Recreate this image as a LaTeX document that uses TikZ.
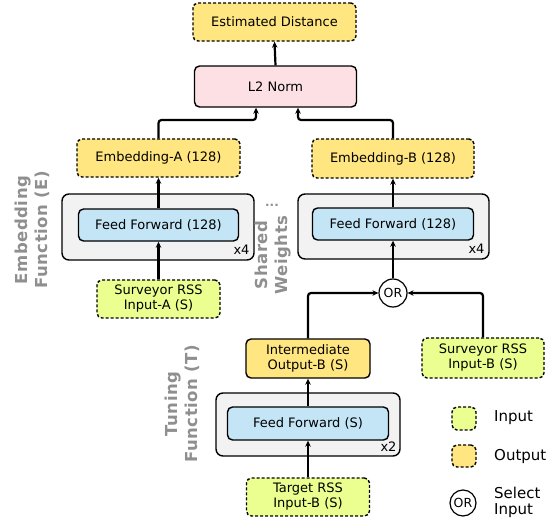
\documentclass[tikz,border=0pt]{standalone}
\usepackage{fontspec}
\setmainfont{DejaVu Sans}
\usetikzlibrary{arrows.meta,calc}
\definecolor{outY}{HTML}{FFE680}
\definecolor{inG}{HTML}{EAFF8F}
\definecolor{l2P}{HTML}{FCE0E3}
\definecolor{ffB}{HTML}{C4E5F5}
\definecolor{grayBox}{HTML}{F2F2F2}
\definecolor{lblG}{HTML}{8F8F8F}
\tikzset{
  base/.style={draw=black, line width=1.4pt, rounded corners=5pt, align=center, inner sep=0pt,
    font=\fontsize{13}{15}\selectfont},
  outbox/.style={base, fill=outY, dash pattern=on 3pt off 2pt},
  inbox/.style={base, fill=inG, dash pattern=on 3pt off 2pt},
  interbox/.style={base, fill=outY},
  l2box/.style={base, fill=l2P},
  ffbox/.style={base, fill=ffB},
  group/.style={draw=black, line width=1.4pt, rounded corners=7pt, fill=grayBox, inner sep=0pt},
  orc/.style={circle, draw=black, line width=1.2pt, fill=white, inner sep=0pt, font=\fontsize{12.5}{14}\selectfont},
  conn/.style={line width=2.2pt, rounded corners=3pt, -{Stealth[length=6pt,width=5.5pt]}},
  side/.style={text=lblG, font=\bfseries\fontsize{16.5}{20}\selectfont\addfontfeatures{LetterSpace=3}, rotate=90, align=center},
  rep/.style={font=\fontsize{13}{14}\selectfont, anchor=south east, inner sep=0pt},
  legtxt/.style={anchor=west, font=\fontsize{15}{16}\selectfont, align=left, inner sep=0pt},
}
\begin{document}
\begin{tikzpicture}[x=1pt,y=-1pt]
\useasboundingbox (0,0) rectangle (555,522);
% groups
\node[group, minimum width=192pt, minimum height=66pt] (gA) at (158,227) {};
\node[group, minimum width=191pt, minimum height=65pt] (gB) at (393.5,226.5) {};
\node[group, minimum width=184pt, minimum height=63pt] (gT) at (308,424.5) {};
\node[rep] (xA) at ([xshift=-5pt,yshift=6pt]gA.south east) {x4};
\node[rep] (xB) at ([xshift=-5pt,yshift=6pt]gB.south east) {x4};
\node[rep] (xT) at ([xshift=-4pt,yshift=5pt]gT.south east) {x2};
% nodes
\node[outbox, minimum width=163pt, minimum height=38pt] (est) at (274.5,22) {Estimated Distance};
\node[l2box, minimum width=162pt, minimum height=41pt] (l2) at (275.5,86.5) {L2 Norm};
\node[outbox, minimum width=163pt, minimum height=38pt] (embA) at (158.5,158) {Embedding-A (128)};
\node[outbox, minimum width=162pt, minimum height=39pt] (embB) at (393,158.5) {Embedding-B (128)};
\node[ffbox, minimum width=160pt, minimum height=32pt] (ffA) at (158.5,225) {Feed Forward (128)};
\node[ffbox, minimum width=161pt, minimum height=32pt] (ffBn) at (393,224) {Feed Forward (128)};
\node[inbox, minimum width=123pt, minimum height=38pt] (inA) at (158.5,299) {Surveyor RSS\\Input-A (S)};
\node[orc, minimum size=28pt] (orB) at (393,293) {OR};
\node[interbox, minimum width=124pt, minimum height=39pt] (inter) at (308,358.5) {Intermediate\\Output-B (S)};
\node[ffbox, minimum width=161pt, minimum height=33pt] (ffT) at (308,423.5) {Feed Forward (S)};
\node[inbox, minimum width=123pt, minimum height=38pt] (tgt) at (308,497) {Target RSS\\Input-B (S)};
\node[inbox, minimum width=122pt, minimum height=40pt] (svB) at (483,358) {Surveyor RSS\\Input-B (S)};
% side labels
\node[side] (labE) at (32,230) {Embedding\\Function (E)};
\node[side] (labS) at (273.5,255) {Shared\\Weights};
\node[text=lblG, font=\bfseries\fontsize{12}{12}\selectfont, inner sep=0pt] (dots) at (272,205) {...};
\node[side] (labT) at (182.5,404) {Tuning\\Function (T)};
% legend
\node[inbox, minimum width=24pt, minimum height=23pt] (legI) at (464,418.5) {};
\node[outbox, minimum width=24pt, minimum height=22pt] (legO) at (464,456) {};
\node[orc, minimum size=26pt] (legOR) at (463,503) {OR};
\node[legtxt] (legIt) at (494,418) {Input};
\node[legtxt] (legOt) at (494,456) {Output};
\node[legtxt] (legSt) at (494,502) {Select\\Input};
% connectors
\coordinate (l2a) at ([xshift=-19.5pt]l2.south);
\coordinate (l2b) at ([xshift=22.5pt]l2.south);
\draw[conn] (l2.north) -- (est.south);
\draw[conn] (embA.north) -- (embA.north |- 0,120) -- (l2a |- 0,120) -- (l2a);
\draw[conn] (embB.north) -- (embB.north |- 0,120) -- (l2b |- 0,120) -- (l2b);
\draw[conn] (ffA.north) -- (embA.south);
\draw[conn] (ffBn.north) -- (embB.south);
\draw[conn] (inA.north) -- (ffA.south);
\draw[conn] (orB.north) -- (ffBn.south);
\draw[conn] (inter.north) |- (orB.west);
\draw[conn] (svB.north) |- (orB.east);
\draw[conn] (ffT.north) -- (inter.south);
\draw[conn] (tgt.north) -- (ffT.south);
\end{tikzpicture}
\end{document}
